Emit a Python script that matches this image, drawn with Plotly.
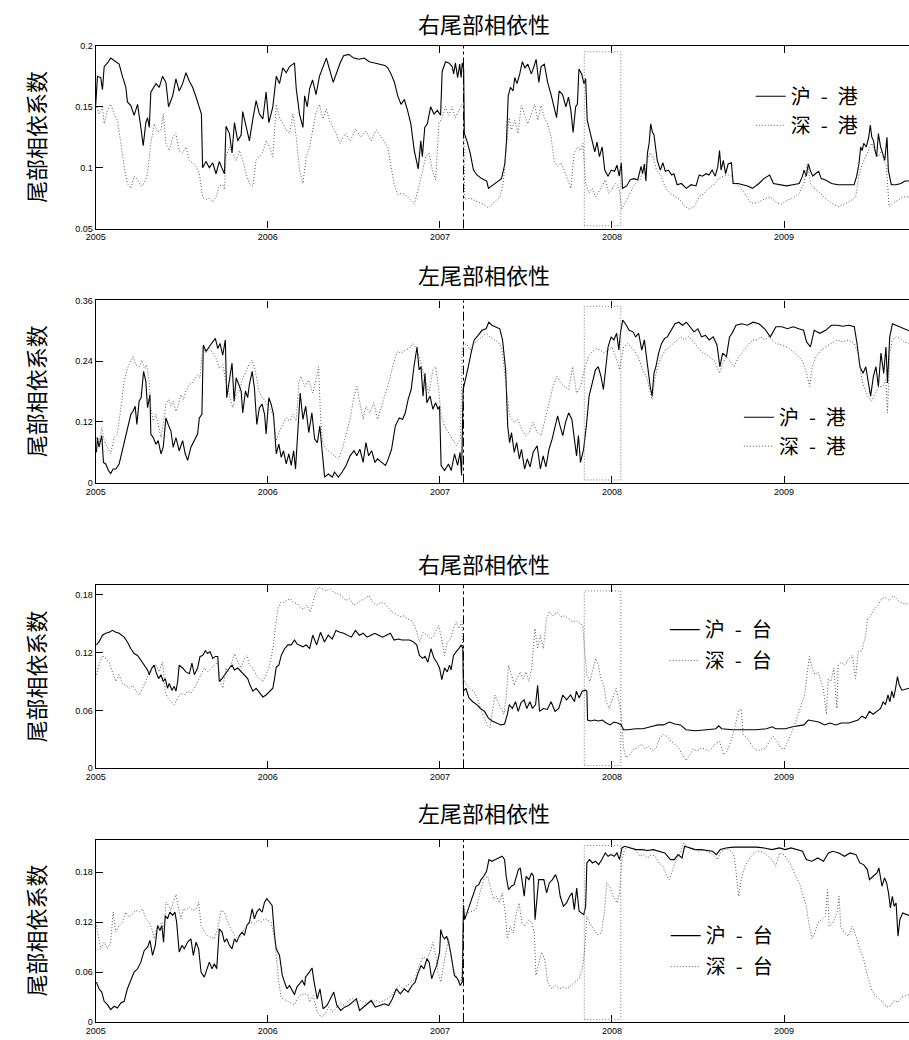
import plotly.graph_objects as go

# ---------------------------------------------------------------- data
YEAR_TICKS = [2005, 2006, 2007, 2008, 2009]
YEAR_LABELS = ["2005", "2006", "2007", "2008", "2009"]
X_RANGE = [2005.0, 2009.726]

CRASH_DATE = 2007.137            # 2007-02-27 market crash
WINDOW = (2007.839, 2008.051)    # highlighted window

PANEL_TITLES = ["右尾部相依性", "左尾部相依性", "右尾部相依性", "左尾部相依性"]
Y_TITLE = "尾部相依系数"
PAIR_NAMES = [("沪\u2002-\u2002港", "深\u2002-\u2002港"), ("沪\u2002-\u2002港", "深\u2002-\u2002港"),
              ("沪\u2002-\u2002台", "深\u2002-\u2002台"), ("沪\u2002-\u2002台", "深\u2002-\u2002台")]

Y_RANGES = [[0.05, 0.2], [0.0, 0.36], [0.0, 0.19], [0.0, 0.219]]
Y_TICKS = [[0.05, 0.1, 0.15, 0.2], [0, 0.12, 0.24, 0.36],
           [0, 0.06, 0.12, 0.18], [0, 0.06, 0.12, 0.18]]
Y_TICK_LABELS = [["0.05", "0.1", "0.15", "0.2"], ["0", "0.12", "0.24", "0.36"],
                 ["0", "0.06", "0.12", "0.18"], ["0", "0.06", "0.12", "0.18"]]

# (year, coefficient) pairs
right_hk_sh = [
    (2005.000, 0.152), (2005.010, 0.175), (2005.029, 0.174), (2005.039, 0.164), (2005.049, 0.183),
    (2005.068, 0.186), (2005.087, 0.190), (2005.117, 0.187), (2005.136, 0.185), (2005.155, 0.175),
    (2005.175, 0.166), (2005.184, 0.154), (2005.204, 0.151), (2005.223, 0.143), (2005.243, 0.152),
    (2005.262, 0.133), (2005.276, 0.118), (2005.291, 0.137), (2005.301, 0.141), (2005.311, 0.133),
    (2005.320, 0.162), (2005.350, 0.169), (2005.369, 0.166), (2005.388, 0.175), (2005.408, 0.170),
    (2005.423, 0.150), (2005.447, 0.159), (2005.466, 0.173), (2005.485, 0.163), (2005.505, 0.169),
    (2005.524, 0.178), (2005.544, 0.171), (2005.563, 0.166), (2005.583, 0.158), (2005.602, 0.150),
    (2005.614, 0.144), (2005.621, 0.100), (2005.641, 0.105), (2005.660, 0.100), (2005.680, 0.104),
    (2005.699, 0.095), (2005.718, 0.105), (2005.738, 0.098), (2005.748, 0.095), (2005.757, 0.134),
    (2005.777, 0.128), (2005.792, 0.112), (2005.806, 0.137), (2005.825, 0.122), (2005.845, 0.127),
    (2005.854, 0.146), (2005.874, 0.133), (2005.893, 0.122), (2005.913, 0.140), (2005.932, 0.155),
    (2005.951, 0.144), (2005.971, 0.140), (2005.990, 0.162), (2006.006, 0.137), (2006.029, 0.150),
    (2006.049, 0.175), (2006.068, 0.169), (2006.087, 0.182), (2006.107, 0.178), (2006.126, 0.183),
    (2006.146, 0.185), (2006.155, 0.186), (2006.165, 0.165), (2006.184, 0.144), (2006.204, 0.133),
    (2006.214, 0.159), (2006.229, 0.150), (2006.243, 0.165), (2006.260, 0.172), (2006.280, 0.160),
    (2006.300, 0.175), (2006.320, 0.183), (2006.340, 0.190), (2006.360, 0.180), (2006.380, 0.170),
    (2006.400, 0.178), (2006.420, 0.186), (2006.440, 0.192), (2006.470, 0.193), (2006.500, 0.190),
    (2006.530, 0.189), (2006.560, 0.190), (2006.590, 0.187), (2006.620, 0.186), (2006.650, 0.185),
    (2006.680, 0.184), (2006.697, 0.182), (2006.716, 0.177), (2006.736, 0.170), (2006.755, 0.159),
    (2006.774, 0.152), (2006.793, 0.156), (2006.812, 0.147), (2006.831, 0.136), (2006.851, 0.114),
    (2006.874, 0.099), (2006.889, 0.122), (2006.898, 0.109), (2006.912, 0.133), (2006.927, 0.136),
    (2006.946, 0.150), (2006.966, 0.144), (2006.985, 0.147), (2007.004, 0.143), (2007.013, 0.179),
    (2007.033, 0.187), (2007.052, 0.186), (2007.071, 0.183), (2007.080, 0.177), (2007.090, 0.186),
    (2007.103, 0.174), (2007.115, 0.185), (2007.123, 0.174), (2007.130, 0.186), (2007.138, 0.181),
    (2007.142, 0.128), (2007.157, 0.122), (2007.176, 0.112), (2007.195, 0.098), (2007.215, 0.094),
    (2007.243, 0.091), (2007.272, 0.089), (2007.282, 0.083), (2007.310, 0.086), (2007.339, 0.089),
    (2007.358, 0.091), (2007.377, 0.103), (2007.387, 0.122), (2007.397, 0.159), (2007.410, 0.166),
    (2007.425, 0.163), (2007.435, 0.174), (2007.448, 0.169), (2007.464, 0.177), (2007.479, 0.187),
    (2007.494, 0.182), (2007.511, 0.185), (2007.531, 0.177), (2007.544, 0.182), (2007.559, 0.189),
    (2007.575, 0.170), (2007.588, 0.183), (2007.607, 0.185), (2007.626, 0.170), (2007.646, 0.160),
    (2007.665, 0.147), (2007.678, 0.141), (2007.693, 0.163), (2007.713, 0.160), (2007.732, 0.150),
    (2007.747, 0.158), (2007.761, 0.147), (2007.774, 0.129), (2007.789, 0.150), (2007.799, 0.152),
    (2007.808, 0.181), (2007.824, 0.177), (2007.837, 0.169), (2007.847, 0.173), (2007.856, 0.139),
    (2007.870, 0.131), (2007.885, 0.120), (2007.900, 0.113), (2007.913, 0.121), (2007.927, 0.109),
    (2007.943, 0.117), (2007.958, 0.098), (2007.977, 0.093), (2007.996, 0.098), (2008.015, 0.097),
    (2008.029, 0.102), (2008.042, 0.093), (2008.054, 0.104), (2008.061, 0.083), (2008.086, 0.085),
    (2008.105, 0.090), (2008.125, 0.091), (2008.150, 0.090), (2008.169, 0.101), (2008.178, 0.095),
    (2008.188, 0.103), (2008.197, 0.089), (2008.206, 0.112), (2008.216, 0.120), (2008.225, 0.136),
    (2008.235, 0.129), (2008.244, 0.127), (2008.253, 0.117), (2008.263, 0.106), (2008.281, 0.098),
    (2008.296, 0.104), (2008.310, 0.097), (2008.328, 0.098), (2008.347, 0.094), (2008.360, 0.095),
    (2008.379, 0.086), (2008.403, 0.087), (2008.432, 0.083), (2008.460, 0.086), (2008.488, 0.085),
    (2008.507, 0.094), (2008.525, 0.093), (2008.548, 0.095), (2008.563, 0.094), (2008.582, 0.098),
    (2008.600, 0.093), (2008.615, 0.101), (2008.625, 0.114), (2008.634, 0.098), (2008.647, 0.106),
    (2008.660, 0.095), (2008.675, 0.103), (2008.694, 0.104), (2008.704, 0.087), (2008.732, 0.087),
    (2008.760, 0.086), (2008.788, 0.085), (2008.816, 0.083), (2008.854, 0.087), (2008.882, 0.091),
    (2008.916, 0.094), (2008.938, 0.087), (2008.976, 0.086), (2009.013, 0.085), (2009.051, 0.086),
    (2009.088, 0.087), (2009.107, 0.093), (2009.116, 0.098), (2009.129, 0.093), (2009.141, 0.103),
    (2009.154, 0.097), (2009.167, 0.093), (2009.182, 0.095), (2009.201, 0.097), (2009.216, 0.091),
    (2009.238, 0.090), (2009.276, 0.087), (2009.313, 0.086), (2009.351, 0.086), (2009.388, 0.086),
    (2009.407, 0.086), (2009.422, 0.093), (2009.435, 0.103), (2009.445, 0.117), (2009.454, 0.114),
    (2009.463, 0.120), (2009.478, 0.117), (2009.492, 0.125), (2009.501, 0.135), (2009.510, 0.125),
    (2009.520, 0.122), (2009.529, 0.114), (2009.538, 0.109), (2009.548, 0.128), (2009.561, 0.117),
    (2009.572, 0.112), (2009.585, 0.106), (2009.598, 0.125), (2009.606, 0.098), (2009.613, 0.093),
    (2009.623, 0.086), (2009.651, 0.086), (2009.679, 0.087), (2009.702, 0.089), (2009.726, 0.089),
]

right_hk_sz = [
    (2005.000, 0.152), (2005.019, 0.144), (2005.039, 0.150), (2005.049, 0.136), (2005.068, 0.147),
    (2005.087, 0.152), (2005.107, 0.144), (2005.126, 0.139), (2005.146, 0.120), (2005.165, 0.101),
    (2005.184, 0.087), (2005.204, 0.083), (2005.223, 0.093), (2005.243, 0.090), (2005.262, 0.085),
    (2005.282, 0.087), (2005.301, 0.095), (2005.320, 0.120), (2005.340, 0.136), (2005.359, 0.129),
    (2005.379, 0.131), (2005.392, 0.144), (2005.408, 0.120), (2005.427, 0.114), (2005.447, 0.125),
    (2005.466, 0.128), (2005.485, 0.114), (2005.505, 0.112), (2005.524, 0.117), (2005.544, 0.106),
    (2005.563, 0.104), (2005.583, 0.101), (2005.602, 0.095), (2005.621, 0.076), (2005.641, 0.074),
    (2005.660, 0.075), (2005.680, 0.072), (2005.699, 0.076), (2005.718, 0.085), (2005.738, 0.086),
    (2005.748, 0.082), (2005.757, 0.109), (2005.777, 0.117), (2005.796, 0.112), (2005.816, 0.106),
    (2005.835, 0.114), (2005.854, 0.106), (2005.874, 0.095), (2005.893, 0.087), (2005.913, 0.085),
    (2005.932, 0.106), (2005.951, 0.109), (2005.971, 0.113), (2005.990, 0.122), (2006.010, 0.117),
    (2006.029, 0.109), (2006.049, 0.152), (2006.068, 0.141), (2006.087, 0.136), (2006.107, 0.131),
    (2006.126, 0.128), (2006.146, 0.144), (2006.165, 0.125), (2006.184, 0.098), (2006.204, 0.087),
    (2006.223, 0.109), (2006.243, 0.117), (2006.260, 0.130), (2006.280, 0.145), (2006.300, 0.152),
    (2006.320, 0.140), (2006.340, 0.148), (2006.360, 0.138), (2006.390, 0.130), (2006.420, 0.120),
    (2006.450, 0.128), (2006.480, 0.122), (2006.510, 0.132), (2006.540, 0.125), (2006.570, 0.130),
    (2006.600, 0.122), (2006.630, 0.131), (2006.660, 0.125), (2006.680, 0.120), (2006.697, 0.117),
    (2006.716, 0.101), (2006.736, 0.085), (2006.755, 0.078), (2006.782, 0.079), (2006.812, 0.076),
    (2006.851, 0.070), (2006.879, 0.085), (2006.899, 0.098), (2006.918, 0.109), (2006.937, 0.112),
    (2006.956, 0.098), (2006.975, 0.090), (2006.994, 0.136), (2007.013, 0.141), (2007.033, 0.150),
    (2007.052, 0.143), (2007.071, 0.150), (2007.090, 0.141), (2007.109, 0.147), (2007.128, 0.152),
    (2007.138, 0.150), (2007.144, 0.074), (2007.176, 0.075), (2007.215, 0.072), (2007.253, 0.070),
    (2007.282, 0.067), (2007.310, 0.071), (2007.349, 0.076), (2007.368, 0.087), (2007.387, 0.114),
    (2007.402, 0.141), (2007.416, 0.131), (2007.435, 0.139), (2007.454, 0.128), (2007.473, 0.151),
    (2007.494, 0.143), (2007.511, 0.136), (2007.531, 0.144), (2007.550, 0.152), (2007.569, 0.139),
    (2007.588, 0.151), (2007.607, 0.141), (2007.626, 0.136), (2007.646, 0.125), (2007.665, 0.105),
    (2007.684, 0.101), (2007.703, 0.104), (2007.722, 0.098), (2007.741, 0.090), (2007.761, 0.083),
    (2007.780, 0.112), (2007.799, 0.117), (2007.818, 0.114), (2007.831, 0.120), (2007.847, 0.087),
    (2007.866, 0.079), (2007.885, 0.083), (2007.904, 0.076), (2007.923, 0.080), (2007.943, 0.085),
    (2007.962, 0.090), (2007.981, 0.079), (2008.000, 0.082), (2008.019, 0.087), (2008.038, 0.085),
    (2008.057, 0.066), (2008.077, 0.072), (2008.105, 0.079), (2008.134, 0.087), (2008.163, 0.090),
    (2008.182, 0.098), (2008.201, 0.104), (2008.220, 0.112), (2008.239, 0.109), (2008.259, 0.098),
    (2008.287, 0.093), (2008.300, 0.087), (2008.319, 0.082), (2008.338, 0.079), (2008.366, 0.076),
    (2008.394, 0.074), (2008.422, 0.068), (2008.450, 0.066), (2008.478, 0.068), (2008.507, 0.076),
    (2008.535, 0.079), (2008.563, 0.083), (2008.591, 0.086), (2008.619, 0.091), (2008.647, 0.093),
    (2008.675, 0.094), (2008.697, 0.093), (2008.713, 0.087), (2008.741, 0.085), (2008.769, 0.079),
    (2008.807, 0.071), (2008.844, 0.071), (2008.882, 0.074), (2008.919, 0.076), (2008.957, 0.071),
    (2008.985, 0.070), (2009.013, 0.073), (2009.051, 0.075), (2009.088, 0.079), (2009.116, 0.087),
    (2009.135, 0.103), (2009.154, 0.087), (2009.182, 0.082), (2009.210, 0.079), (2009.238, 0.075),
    (2009.276, 0.071), (2009.313, 0.068), (2009.351, 0.070), (2009.388, 0.073), (2009.416, 0.076),
    (2009.435, 0.093), (2009.454, 0.103), (2009.473, 0.109), (2009.492, 0.114), (2009.510, 0.120),
    (2009.529, 0.113), (2009.548, 0.109), (2009.567, 0.114), (2009.580, 0.106), (2009.595, 0.101),
    (2009.610, 0.068), (2009.632, 0.071), (2009.660, 0.073), (2009.689, 0.076), (2009.726, 0.076),
]

left_hk_sh = [
    (2005.004, 0.060), (2005.010, 0.089), (2005.019, 0.070), (2005.035, 0.093), (2005.045, 0.040),
    (2005.058, 0.037), (2005.074, 0.024), (2005.087, 0.018), (2005.101, 0.027), (2005.117, 0.027),
    (2005.136, 0.037), (2005.155, 0.063), (2005.175, 0.093), (2005.190, 0.115), (2005.204, 0.135),
    (2005.217, 0.141), (2005.229, 0.151), (2005.239, 0.115), (2005.252, 0.161), (2005.264, 0.168),
    (2005.278, 0.220), (2005.291, 0.200), (2005.301, 0.148), (2005.315, 0.174), (2005.320, 0.096),
    (2005.334, 0.089), (2005.350, 0.076), (2005.363, 0.083), (2005.379, 0.057), (2005.392, 0.070),
    (2005.408, 0.128), (2005.421, 0.115), (2005.437, 0.102), (2005.450, 0.070), (2005.466, 0.089),
    (2005.485, 0.063), (2005.505, 0.083), (2005.520, 0.057), (2005.534, 0.044), (2005.553, 0.070),
    (2005.573, 0.083), (2005.592, 0.096), (2005.602, 0.128), (2005.617, 0.135), (2005.625, 0.272),
    (2005.641, 0.259), (2005.660, 0.269), (2005.680, 0.278), (2005.695, 0.285), (2005.709, 0.265),
    (2005.722, 0.275), (2005.738, 0.252), (2005.753, 0.282), (2005.761, 0.168), (2005.777, 0.200),
    (2005.792, 0.236), (2005.804, 0.161), (2005.816, 0.207), (2005.831, 0.194), (2005.845, 0.181),
    (2005.854, 0.138), (2005.870, 0.181), (2005.883, 0.168), (2005.893, 0.194), (2005.909, 0.220),
    (2005.922, 0.187), (2005.936, 0.115), (2005.951, 0.148), (2005.967, 0.155), (2005.981, 0.135),
    (2005.990, 0.096), (2006.006, 0.168), (2006.019, 0.155), (2006.033, 0.135), (2006.049, 0.057),
    (2006.064, 0.076), (2006.078, 0.050), (2006.091, 0.063), (2006.107, 0.037), (2006.122, 0.057),
    (2006.136, 0.034), (2006.150, 0.063), (2006.161, 0.027), (2006.175, 0.096), (2006.188, 0.177),
    (2006.204, 0.125), (2006.220, 0.151), (2006.238, 0.099), (2006.256, 0.138), (2006.272, 0.086),
    (2006.288, 0.079), (2006.302, 0.112), (2006.318, 0.047), (2006.330, 0.011), (2006.352, 0.017),
    (2006.375, 0.011), (2006.387, 0.021), (2006.410, 0.011), (2006.432, 0.021), (2006.455, 0.034),
    (2006.478, 0.053), (2006.501, 0.063), (2006.517, 0.053), (2006.535, 0.066), (2006.554, 0.040),
    (2006.570, 0.079), (2006.586, 0.053), (2006.604, 0.063), (2006.622, 0.040), (2006.638, 0.047),
    (2006.661, 0.040), (2006.684, 0.034), (2006.700, 0.047), (2006.719, 0.066), (2006.741, 0.112),
    (2006.764, 0.128), (2006.783, 0.125), (2006.799, 0.138), (2006.815, 0.164), (2006.833, 0.184),
    (2006.849, 0.229), (2006.867, 0.268), (2006.879, 0.223), (2006.890, 0.229), (2006.902, 0.171),
    (2006.913, 0.216), (2006.924, 0.158), (2006.943, 0.171), (2006.959, 0.145), (2006.975, 0.158),
    (2006.989, 0.145), (2006.998, 0.151), (2007.007, 0.034), (2007.027, 0.024), (2007.050, 0.037),
    (2007.066, 0.024), (2007.085, 0.057), (2007.103, 0.034), (2007.117, 0.060), (2007.126, 0.014),
    (2007.135, 0.184), (2007.149, 0.203), (2007.165, 0.229), (2007.181, 0.256), (2007.199, 0.282),
    (2007.222, 0.291), (2007.245, 0.301), (2007.268, 0.304), (2007.284, 0.317), (2007.302, 0.311),
    (2007.325, 0.308), (2007.348, 0.304), (2007.364, 0.282), (2007.382, 0.223), (2007.394, 0.112),
    (2007.405, 0.079), (2007.416, 0.099), (2007.432, 0.060), (2007.446, 0.079), (2007.462, 0.047),
    (2007.474, 0.066), (2007.492, 0.027), (2007.508, 0.047), (2007.524, 0.031), (2007.542, 0.060),
    (2007.565, 0.073), (2007.584, 0.027), (2007.600, 0.053), (2007.616, 0.031), (2007.634, 0.066),
    (2007.652, 0.086), (2007.668, 0.112), (2007.684, 0.132), (2007.698, 0.112), (2007.714, 0.093),
    (2007.730, 0.119), (2007.748, 0.138), (2007.767, 0.125), (2007.783, 0.079), (2007.794, 0.053),
    (2007.805, 0.093), (2007.817, 0.040), (2007.835, 0.066), (2007.851, 0.112), (2007.867, 0.171),
    (2007.886, 0.197), (2007.904, 0.223), (2007.920, 0.229), (2007.936, 0.210), (2007.950, 0.184),
    (2007.959, 0.216), (2007.977, 0.268), (2007.995, 0.288), (2008.011, 0.282), (2008.027, 0.295),
    (2008.040, 0.262), (2008.049, 0.295), (2008.062, 0.321), (2008.078, 0.314), (2008.100, 0.301),
    (2008.122, 0.298), (2008.137, 0.288), (2008.155, 0.295), (2008.173, 0.262), (2008.188, 0.282),
    (2008.200, 0.249), (2008.211, 0.216), (2008.222, 0.190), (2008.233, 0.171), (2008.244, 0.216),
    (2008.255, 0.229), (2008.271, 0.256), (2008.288, 0.275), (2008.306, 0.285), (2008.322, 0.288),
    (2008.344, 0.301), (2008.366, 0.314), (2008.388, 0.317), (2008.410, 0.311), (2008.432, 0.317),
    (2008.455, 0.308), (2008.477, 0.298), (2008.499, 0.304), (2008.521, 0.288), (2008.543, 0.291),
    (2008.565, 0.282), (2008.588, 0.288), (2008.610, 0.272), (2008.627, 0.229), (2008.643, 0.256),
    (2008.665, 0.249), (2008.683, 0.288), (2008.698, 0.295), (2008.721, 0.311), (2008.754, 0.314),
    (2008.787, 0.311), (2008.820, 0.317), (2008.854, 0.314), (2008.887, 0.304), (2008.920, 0.288),
    (2008.953, 0.308), (2008.987, 0.308), (2009.020, 0.304), (2009.053, 0.308), (2009.086, 0.304),
    (2009.113, 0.301), (2009.131, 0.278), (2009.153, 0.268), (2009.175, 0.301), (2009.208, 0.295),
    (2009.242, 0.301), (2009.275, 0.311), (2009.308, 0.311), (2009.341, 0.309), (2009.375, 0.311),
    (2009.408, 0.308), (2009.424, 0.275), (2009.441, 0.229), (2009.459, 0.216), (2009.475, 0.229),
    (2009.490, 0.197), (2009.503, 0.171), (2009.519, 0.210), (2009.534, 0.229), (2009.548, 0.190),
    (2009.563, 0.256), (2009.579, 0.216), (2009.592, 0.268), (2009.601, 0.197), (2009.614, 0.288),
    (2009.630, 0.314), (2009.652, 0.311), (2009.674, 0.308), (2009.696, 0.304), (2009.726, 0.300),
]

left_hk_sz = [
    (2005.004, 0.089), (2005.019, 0.076), (2005.035, 0.109), (2005.049, 0.083), (2005.068, 0.070),
    (2005.087, 0.057), (2005.107, 0.089), (2005.126, 0.096), (2005.146, 0.148), (2005.165, 0.200),
    (2005.184, 0.226), (2005.204, 0.239), (2005.217, 0.249), (2005.233, 0.233), (2005.252, 0.229),
    (2005.268, 0.242), (2005.282, 0.226), (2005.295, 0.233), (2005.311, 0.200), (2005.320, 0.148),
    (2005.334, 0.122), (2005.350, 0.135), (2005.365, 0.109), (2005.379, 0.089), (2005.392, 0.115),
    (2005.408, 0.155), (2005.423, 0.164), (2005.437, 0.151), (2005.450, 0.161), (2005.466, 0.141),
    (2005.482, 0.155), (2005.495, 0.174), (2005.509, 0.164), (2005.524, 0.181), (2005.544, 0.194),
    (2005.563, 0.197), (2005.579, 0.207), (2005.592, 0.213), (2005.606, 0.207), (2005.621, 0.265),
    (2005.641, 0.256), (2005.660, 0.265), (2005.680, 0.256), (2005.699, 0.246), (2005.718, 0.226),
    (2005.738, 0.233), (2005.757, 0.200), (2005.777, 0.174), (2005.796, 0.148), (2005.816, 0.174),
    (2005.835, 0.181), (2005.854, 0.207), (2005.874, 0.220), (2005.893, 0.236), (2005.909, 0.242),
    (2005.928, 0.220), (2005.948, 0.181), (2005.967, 0.168), (2005.986, 0.161), (2006.006, 0.148),
    (2006.029, 0.135), (2006.049, 0.083), (2006.068, 0.102), (2006.087, 0.115), (2006.107, 0.128),
    (2006.126, 0.122), (2006.146, 0.135), (2006.165, 0.122), (2006.181, 0.200), (2006.192, 0.210),
    (2006.215, 0.190), (2006.238, 0.203), (2006.261, 0.177), (2006.284, 0.210), (2006.295, 0.229),
    (2006.307, 0.125), (2006.318, 0.079), (2006.341, 0.066), (2006.364, 0.060), (2006.387, 0.053),
    (2006.410, 0.047), (2006.432, 0.066), (2006.455, 0.093), (2006.478, 0.125), (2006.501, 0.171),
    (2006.517, 0.190), (2006.535, 0.158), (2006.554, 0.125), (2006.570, 0.151), (2006.593, 0.138),
    (2006.616, 0.158), (2006.638, 0.125), (2006.661, 0.151), (2006.684, 0.177), (2006.707, 0.203),
    (2006.730, 0.236), (2006.753, 0.259), (2006.776, 0.256), (2006.799, 0.262), (2006.822, 0.265),
    (2006.844, 0.275), (2006.867, 0.262), (2006.890, 0.236), (2006.913, 0.203), (2006.936, 0.177),
    (2006.959, 0.223), (2006.975, 0.229), (2006.993, 0.184), (2007.007, 0.132), (2007.027, 0.112),
    (2007.050, 0.099), (2007.073, 0.086), (2007.096, 0.073), (2007.119, 0.086), (2007.130, 0.268),
    (2007.153, 0.275), (2007.176, 0.262), (2007.199, 0.275), (2007.222, 0.282), (2007.245, 0.288),
    (2007.268, 0.295), (2007.291, 0.288), (2007.314, 0.282), (2007.336, 0.278), (2007.359, 0.268),
    (2007.382, 0.203), (2007.405, 0.132), (2007.430, 0.119), (2007.453, 0.125), (2007.474, 0.106),
    (2007.497, 0.093), (2007.519, 0.099), (2007.542, 0.119), (2007.565, 0.099), (2007.588, 0.093),
    (2007.611, 0.125), (2007.634, 0.158), (2007.657, 0.190), (2007.680, 0.210), (2007.703, 0.197),
    (2007.725, 0.190), (2007.748, 0.184), (2007.771, 0.229), (2007.794, 0.177), (2007.817, 0.190),
    (2007.840, 0.223), (2007.863, 0.249), (2007.886, 0.259), (2007.908, 0.265), (2007.931, 0.262),
    (2007.954, 0.256), (2007.977, 0.262), (2008.000, 0.268), (2008.022, 0.249), (2008.044, 0.223),
    (2008.067, 0.268), (2008.089, 0.275), (2008.111, 0.268), (2008.133, 0.259), (2008.155, 0.246),
    (2008.177, 0.223), (2008.200, 0.210), (2008.222, 0.177), (2008.233, 0.164), (2008.248, 0.203),
    (2008.266, 0.229), (2008.288, 0.249), (2008.310, 0.262), (2008.333, 0.268), (2008.355, 0.275),
    (2008.377, 0.282), (2008.399, 0.288), (2008.421, 0.282), (2008.443, 0.288), (2008.466, 0.282),
    (2008.488, 0.272), (2008.510, 0.262), (2008.532, 0.256), (2008.554, 0.252), (2008.576, 0.246),
    (2008.599, 0.239), (2008.625, 0.216), (2008.643, 0.236), (2008.665, 0.249), (2008.687, 0.239),
    (2008.710, 0.229), (2008.732, 0.246), (2008.754, 0.256), (2008.776, 0.265), (2008.798, 0.275),
    (2008.820, 0.282), (2008.843, 0.282), (2008.865, 0.288), (2008.887, 0.282), (2008.909, 0.288),
    (2008.931, 0.282), (2008.953, 0.275), (2008.987, 0.272), (2009.020, 0.268), (2009.053, 0.259),
    (2009.086, 0.249), (2009.109, 0.239), (2009.131, 0.216), (2009.149, 0.190), (2009.164, 0.229),
    (2009.186, 0.249), (2009.208, 0.259), (2009.242, 0.268), (2009.275, 0.275), (2009.308, 0.282),
    (2009.341, 0.278), (2009.375, 0.282), (2009.408, 0.275), (2009.430, 0.256), (2009.446, 0.216),
    (2009.463, 0.190), (2009.486, 0.171), (2009.508, 0.161), (2009.530, 0.177), (2009.552, 0.190),
    (2009.574, 0.190), (2009.592, 0.203), (2009.601, 0.138), (2009.614, 0.256), (2009.630, 0.282),
    (2009.652, 0.288), (2009.674, 0.285), (2009.696, 0.278), (2009.726, 0.275),
]

right_tw_sh = [
    (2005.004, 0.128), (2005.019, 0.131), (2005.039, 0.138), (2005.058, 0.140), (2005.078, 0.141),
    (2005.097, 0.143), (2005.117, 0.141), (2005.136, 0.140), (2005.165, 0.136), (2005.184, 0.131),
    (2005.204, 0.124), (2005.223, 0.119), (2005.243, 0.117), (2005.262, 0.112), (2005.282, 0.107),
    (2005.301, 0.102), (2005.311, 0.097), (2005.326, 0.104), (2005.340, 0.107), (2005.350, 0.100),
    (2005.365, 0.093), (2005.379, 0.097), (2005.392, 0.090), (2005.404, 0.093), (2005.417, 0.083),
    (2005.427, 0.088), (2005.443, 0.081), (2005.456, 0.085), (2005.466, 0.080), (2005.476, 0.090),
    (2005.485, 0.107), (2005.505, 0.104), (2005.524, 0.100), (2005.544, 0.098), (2005.559, 0.109),
    (2005.573, 0.097), (2005.592, 0.104), (2005.606, 0.116), (2005.621, 0.117), (2005.637, 0.122),
    (2005.650, 0.119), (2005.664, 0.121), (2005.680, 0.114), (2005.695, 0.116), (2005.709, 0.116),
    (2005.718, 0.090), (2005.734, 0.093), (2005.748, 0.097), (2005.761, 0.100), (2005.777, 0.104),
    (2005.792, 0.107), (2005.806, 0.102), (2005.825, 0.104), (2005.845, 0.100), (2005.864, 0.097),
    (2005.883, 0.093), (2005.897, 0.086), (2005.913, 0.080), (2005.932, 0.083), (2005.951, 0.078),
    (2005.971, 0.074), (2005.990, 0.076), (2006.010, 0.080), (2006.029, 0.083), (2006.039, 0.093),
    (2006.049, 0.105), (2006.064, 0.107), (2006.078, 0.117), (2006.097, 0.124), (2006.117, 0.128),
    (2006.136, 0.128), (2006.155, 0.133), (2006.169, 0.129), (2006.184, 0.128), (2006.204, 0.126),
    (2006.223, 0.128), (2006.243, 0.124), (2006.261, 0.138), (2006.284, 0.128), (2006.306, 0.141),
    (2006.329, 0.131), (2006.351, 0.138), (2006.374, 0.134), (2006.396, 0.143), (2006.419, 0.141),
    (2006.441, 0.140), (2006.464, 0.138), (2006.486, 0.136), (2006.509, 0.143), (2006.532, 0.138),
    (2006.554, 0.140), (2006.577, 0.136), (2006.599, 0.138), (2006.622, 0.140), (2006.644, 0.138),
    (2006.667, 0.136), (2006.689, 0.138), (2006.712, 0.140), (2006.734, 0.133), (2006.757, 0.134),
    (2006.779, 0.133), (2006.802, 0.133), (2006.824, 0.133), (2006.847, 0.131), (2006.865, 0.128),
    (2006.881, 0.117), (2006.899, 0.114), (2006.914, 0.116), (2006.930, 0.110), (2006.948, 0.124),
    (2006.966, 0.114), (2006.982, 0.110), (2006.998, 0.104), (2007.011, 0.092), (2007.027, 0.104),
    (2007.043, 0.100), (2007.056, 0.107), (2007.065, 0.102), (2007.079, 0.117), (2007.095, 0.121),
    (2007.110, 0.124), (2007.124, 0.128), (2007.133, 0.124), (2007.137, 0.080), (2007.151, 0.083),
    (2007.169, 0.073), (2007.191, 0.069), (2007.214, 0.066), (2007.236, 0.062), (2007.259, 0.059),
    (2007.282, 0.052), (2007.304, 0.049), (2007.331, 0.047), (2007.354, 0.045), (2007.376, 0.046),
    (2007.392, 0.056), (2007.403, 0.066), (2007.421, 0.062), (2007.439, 0.069), (2007.455, 0.059),
    (2007.471, 0.068), (2007.489, 0.071), (2007.505, 0.062), (2007.523, 0.069), (2007.538, 0.062),
    (2007.556, 0.066), (2007.568, 0.086), (2007.579, 0.059), (2007.601, 0.062), (2007.624, 0.061),
    (2007.646, 0.069), (2007.669, 0.059), (2007.691, 0.062), (2007.714, 0.076), (2007.736, 0.071),
    (2007.759, 0.076), (2007.782, 0.069), (2007.793, 0.080), (2007.809, 0.073), (2007.827, 0.080),
    (2007.845, 0.081), (2007.854, 0.080), (2007.858, 0.050), (2007.876, 0.049), (2007.899, 0.050),
    (2007.921, 0.049), (2007.944, 0.050), (2007.966, 0.047), (2007.989, 0.045), (2008.011, 0.048),
    (2008.033, 0.047), (2008.054, 0.045), (2008.067, 0.040), (2008.093, 0.040), (2008.137, 0.041),
    (2008.180, 0.041), (2008.224, 0.043), (2008.267, 0.045), (2008.300, 0.045), (2008.333, 0.048),
    (2008.365, 0.046), (2008.398, 0.045), (2008.430, 0.040), (2008.485, 0.039), (2008.550, 0.040),
    (2008.604, 0.041), (2008.620, 0.044), (2008.637, 0.041), (2008.702, 0.040), (2008.767, 0.040),
    (2008.833, 0.040), (2008.898, 0.041), (2008.930, 0.043), (2008.952, 0.041), (2009.007, 0.041),
    (2009.050, 0.043), (2009.091, 0.044), (2009.115, 0.045), (2009.141, 0.050), (2009.167, 0.049),
    (2009.202, 0.048), (2009.235, 0.045), (2009.267, 0.047), (2009.300, 0.045), (2009.333, 0.047),
    (2009.376, 0.047), (2009.409, 0.049), (2009.430, 0.050), (2009.452, 0.054), (2009.474, 0.052),
    (2009.496, 0.059), (2009.517, 0.056), (2009.539, 0.059), (2009.561, 0.062), (2009.576, 0.069),
    (2009.589, 0.066), (2009.604, 0.076), (2009.615, 0.069), (2009.626, 0.080), (2009.637, 0.073),
    (2009.648, 0.083), (2009.659, 0.095), (2009.670, 0.086), (2009.685, 0.081), (2009.726, 0.083),
]

right_tw_sz = [
    (2005.004, 0.097), (2005.019, 0.107), (2005.039, 0.117), (2005.058, 0.114), (2005.078, 0.110),
    (2005.097, 0.100), (2005.117, 0.090), (2005.136, 0.097), (2005.155, 0.088), (2005.175, 0.086),
    (2005.194, 0.083), (2005.214, 0.086), (2005.233, 0.081), (2005.252, 0.076), (2005.272, 0.083),
    (2005.291, 0.090), (2005.311, 0.100), (2005.330, 0.104), (2005.350, 0.107), (2005.369, 0.100),
    (2005.388, 0.110), (2005.404, 0.080), (2005.417, 0.073), (2005.437, 0.069), (2005.456, 0.066),
    (2005.476, 0.073), (2005.495, 0.078), (2005.515, 0.076), (2005.534, 0.080), (2005.553, 0.078),
    (2005.573, 0.083), (2005.592, 0.090), (2005.612, 0.097), (2005.631, 0.104), (2005.650, 0.100),
    (2005.670, 0.104), (2005.689, 0.107), (2005.709, 0.110), (2005.723, 0.090), (2005.738, 0.083),
    (2005.757, 0.104), (2005.767, 0.100), (2005.786, 0.107), (2005.806, 0.119), (2005.825, 0.110),
    (2005.845, 0.104), (2005.864, 0.114), (2005.878, 0.117), (2005.893, 0.107), (2005.913, 0.104),
    (2005.932, 0.097), (2005.951, 0.093), (2005.971, 0.090), (2005.990, 0.097), (2006.006, 0.104),
    (2006.019, 0.114), (2006.033, 0.128), (2006.045, 0.148), (2006.058, 0.165), (2006.072, 0.172),
    (2006.091, 0.172), (2006.111, 0.174), (2006.130, 0.176), (2006.150, 0.172), (2006.169, 0.171),
    (2006.188, 0.167), (2006.208, 0.165), (2006.227, 0.169), (2006.247, 0.162), (2006.262, 0.172),
    (2006.281, 0.184), (2006.295, 0.188), (2006.318, 0.186), (2006.340, 0.184), (2006.363, 0.186),
    (2006.385, 0.182), (2006.408, 0.181), (2006.430, 0.179), (2006.453, 0.174), (2006.475, 0.176),
    (2006.498, 0.169), (2006.520, 0.171), (2006.543, 0.174), (2006.565, 0.176), (2006.588, 0.179),
    (2006.610, 0.172), (2006.633, 0.169), (2006.655, 0.172), (2006.678, 0.171), (2006.700, 0.167),
    (2006.723, 0.162), (2006.745, 0.160), (2006.768, 0.157), (2006.791, 0.158), (2006.813, 0.155),
    (2006.836, 0.153), (2006.858, 0.146), (2006.881, 0.131), (2006.903, 0.141), (2006.926, 0.138),
    (2006.944, 0.134), (2006.959, 0.136), (2006.975, 0.141), (2006.993, 0.148), (2007.011, 0.134),
    (2007.027, 0.117), (2007.043, 0.131), (2007.061, 0.134), (2007.079, 0.145), (2007.095, 0.152),
    (2007.110, 0.145), (2007.128, 0.152), (2007.137, 0.093), (2007.155, 0.086), (2007.173, 0.083),
    (2007.196, 0.080), (2007.218, 0.073), (2007.241, 0.059), (2007.259, 0.052), (2007.275, 0.045),
    (2007.291, 0.042), (2007.304, 0.056), (2007.320, 0.076), (2007.336, 0.069), (2007.354, 0.062),
    (2007.372, 0.056), (2007.387, 0.076), (2007.399, 0.107), (2007.417, 0.097), (2007.432, 0.086),
    (2007.448, 0.093), (2007.466, 0.100), (2007.484, 0.093), (2007.500, 0.100), (2007.516, 0.090),
    (2007.534, 0.104), (2007.552, 0.145), (2007.568, 0.124), (2007.583, 0.138), (2007.601, 0.124),
    (2007.619, 0.155), (2007.635, 0.162), (2007.658, 0.158), (2007.680, 0.162), (2007.703, 0.157),
    (2007.725, 0.158), (2007.748, 0.155), (2007.770, 0.152), (2007.793, 0.153), (2007.815, 0.150),
    (2007.831, 0.148), (2007.840, 0.124), (2007.854, 0.097), (2007.872, 0.090), (2007.890, 0.104),
    (2007.905, 0.114), (2007.921, 0.107), (2007.935, 0.093), (2007.953, 0.086), (2007.966, 0.069),
    (2007.984, 0.062), (2008.007, 0.073), (2008.024, 0.083), (2008.041, 0.069), (2008.054, 0.056),
    (2008.067, 0.021), (2008.083, 0.011), (2008.104, 0.014), (2008.126, 0.020), (2008.148, 0.021),
    (2008.170, 0.025), (2008.191, 0.020), (2008.213, 0.023), (2008.235, 0.018), (2008.257, 0.021),
    (2008.278, 0.032), (2008.300, 0.035), (2008.322, 0.033), (2008.343, 0.028), (2008.365, 0.025),
    (2008.387, 0.021), (2008.409, 0.014), (2008.430, 0.008), (2008.452, 0.014), (2008.474, 0.020),
    (2008.496, 0.018), (2008.517, 0.021), (2008.539, 0.020), (2008.561, 0.018), (2008.583, 0.021),
    (2008.604, 0.026), (2008.626, 0.028), (2008.648, 0.014), (2008.670, 0.018), (2008.691, 0.028),
    (2008.713, 0.042), (2008.735, 0.059), (2008.750, 0.062), (2008.763, 0.035), (2008.785, 0.032),
    (2008.807, 0.025), (2008.828, 0.020), (2008.850, 0.018), (2008.872, 0.020), (2008.893, 0.021),
    (2008.915, 0.028), (2008.937, 0.033), (2008.959, 0.028), (2008.980, 0.021), (2009.002, 0.020),
    (2009.024, 0.028), (2009.039, 0.035), (2009.061, 0.045), (2009.083, 0.056), (2009.104, 0.066),
    (2009.120, 0.076), (2009.133, 0.097), (2009.148, 0.116), (2009.163, 0.104), (2009.180, 0.097),
    (2009.198, 0.100), (2009.213, 0.090), (2009.228, 0.083), (2009.246, 0.056), (2009.257, 0.093),
    (2009.272, 0.090), (2009.289, 0.104), (2009.307, 0.062), (2009.315, 0.107), (2009.333, 0.110),
    (2009.354, 0.107), (2009.376, 0.114), (2009.398, 0.117), (2009.415, 0.093), (2009.430, 0.121),
    (2009.452, 0.122), (2009.474, 0.138), (2009.485, 0.155), (2009.502, 0.158), (2009.524, 0.165),
    (2009.546, 0.169), (2009.567, 0.176), (2009.589, 0.177), (2009.611, 0.174), (2009.633, 0.179),
    (2009.654, 0.176), (2009.676, 0.172), (2009.691, 0.171), (2009.726, 0.170),
]

left_tw_sh = [
    (2005.004, 0.048), (2005.019, 0.040), (2005.035, 0.036), (2005.049, 0.025), (2005.068, 0.021),
    (2005.087, 0.015), (2005.107, 0.019), (2005.126, 0.017), (2005.146, 0.023), (2005.165, 0.025),
    (2005.184, 0.040), (2005.204, 0.050), (2005.223, 0.060), (2005.243, 0.064), (2005.262, 0.072),
    (2005.282, 0.086), (2005.301, 0.090), (2005.315, 0.098), (2005.330, 0.080), (2005.346, 0.092),
    (2005.359, 0.116), (2005.373, 0.110), (2005.384, 0.116), (2005.394, 0.096), (2005.404, 0.128),
    (2005.417, 0.124), (2005.431, 0.132), (2005.447, 0.128), (2005.460, 0.132), (2005.470, 0.120),
    (2005.485, 0.084), (2005.501, 0.092), (2005.515, 0.088), (2005.534, 0.096), (2005.553, 0.100),
    (2005.567, 0.080), (2005.583, 0.096), (2005.598, 0.088), (2005.612, 0.060), (2005.631, 0.054),
    (2005.645, 0.064), (2005.660, 0.072), (2005.676, 0.064), (2005.689, 0.070), (2005.703, 0.064),
    (2005.718, 0.112), (2005.734, 0.108), (2005.748, 0.096), (2005.761, 0.100), (2005.777, 0.092),
    (2005.792, 0.088), (2005.806, 0.100), (2005.819, 0.096), (2005.835, 0.104), (2005.851, 0.108),
    (2005.864, 0.104), (2005.878, 0.116), (2005.893, 0.120), (2005.909, 0.136), (2005.922, 0.124),
    (2005.936, 0.132), (2005.951, 0.136), (2005.967, 0.132), (2005.981, 0.144), (2005.994, 0.148),
    (2006.010, 0.144), (2006.025, 0.140), (2006.039, 0.104), (2006.049, 0.088), (2006.068, 0.080),
    (2006.084, 0.056), (2006.097, 0.048), (2006.111, 0.040), (2006.126, 0.044), (2006.142, 0.038),
    (2006.155, 0.033), (2006.169, 0.042), (2006.184, 0.046), (2006.200, 0.050), (2006.214, 0.044),
    (2006.219, 0.054), (2006.241, 0.060), (2006.257, 0.065), (2006.269, 0.048), (2006.287, 0.028),
    (2006.303, 0.040), (2006.321, 0.016), (2006.344, 0.020), (2006.367, 0.030), (2006.383, 0.036),
    (2006.401, 0.020), (2006.424, 0.014), (2006.446, 0.018), (2006.469, 0.020), (2006.492, 0.024),
    (2006.515, 0.028), (2006.533, 0.014), (2006.556, 0.018), (2006.579, 0.022), (2006.601, 0.026),
    (2006.624, 0.018), (2006.651, 0.020), (2006.679, 0.022), (2006.702, 0.020), (2006.724, 0.028),
    (2006.747, 0.040), (2006.770, 0.034), (2006.793, 0.040), (2006.815, 0.036), (2006.838, 0.044),
    (2006.856, 0.048), (2006.875, 0.060), (2006.891, 0.068), (2006.907, 0.064), (2006.925, 0.076),
    (2006.938, 0.072), (2006.952, 0.052), (2006.966, 0.060), (2006.982, 0.068), (2006.998, 0.084),
    (2007.005, 0.111), (2007.016, 0.103), (2007.027, 0.100), (2007.039, 0.103), (2007.050, 0.096),
    (2007.062, 0.084), (2007.073, 0.068), (2007.084, 0.056), (2007.103, 0.052), (2007.118, 0.044),
    (2007.130, 0.048), (2007.137, 0.139), (2007.144, 0.123), (2007.157, 0.131), (2007.175, 0.143),
    (2007.194, 0.155), (2007.210, 0.163), (2007.226, 0.165), (2007.239, 0.171), (2007.255, 0.175),
    (2007.271, 0.181), (2007.285, 0.195), (2007.301, 0.193), (2007.323, 0.195), (2007.346, 0.197),
    (2007.362, 0.199), (2007.376, 0.195), (2007.385, 0.175), (2007.399, 0.159), (2007.415, 0.163),
    (2007.431, 0.165), (2007.444, 0.175), (2007.456, 0.183), (2007.467, 0.185), (2007.478, 0.167),
    (2007.490, 0.151), (2007.501, 0.175), (2007.517, 0.171), (2007.533, 0.179), (2007.544, 0.175),
    (2007.553, 0.123), (2007.563, 0.143), (2007.574, 0.171), (2007.590, 0.171), (2007.604, 0.171),
    (2007.620, 0.155), (2007.636, 0.167), (2007.654, 0.171), (2007.672, 0.177), (2007.688, 0.167),
    (2007.699, 0.151), (2007.718, 0.139), (2007.736, 0.143), (2007.754, 0.151), (2007.768, 0.155),
    (2007.781, 0.135), (2007.795, 0.161), (2007.809, 0.133), (2007.822, 0.131), (2007.836, 0.129),
    (2007.847, 0.139), (2007.854, 0.191), (2007.870, 0.195), (2007.886, 0.191), (2007.904, 0.193),
    (2007.923, 0.189), (2007.941, 0.195), (2007.961, 0.203), (2007.977, 0.199), (2007.995, 0.201),
    (2008.013, 0.199), (2008.029, 0.203), (2008.044, 0.195), (2008.058, 0.209), (2008.073, 0.211),
    (2008.107, 0.209), (2008.140, 0.207), (2008.173, 0.207), (2008.207, 0.206), (2008.240, 0.207),
    (2008.273, 0.205), (2008.307, 0.203), (2008.340, 0.195), (2008.362, 0.195), (2008.384, 0.201),
    (2008.407, 0.197), (2008.422, 0.211), (2008.451, 0.209), (2008.484, 0.207), (2008.518, 0.207),
    (2008.551, 0.206), (2008.584, 0.205), (2008.607, 0.201), (2008.629, 0.207), (2008.662, 0.209),
    (2008.707, 0.210), (2008.751, 0.210), (2008.796, 0.210), (2008.840, 0.210), (2008.884, 0.209),
    (2008.929, 0.207), (2008.973, 0.209), (2009.007, 0.207), (2009.040, 0.209), (2009.073, 0.207),
    (2009.107, 0.205), (2009.129, 0.195), (2009.162, 0.193), (2009.196, 0.197), (2009.229, 0.193),
    (2009.258, 0.203), (2009.284, 0.205), (2009.318, 0.203), (2009.351, 0.199), (2009.384, 0.203),
    (2009.418, 0.201), (2009.440, 0.191), (2009.462, 0.189), (2009.484, 0.183), (2009.496, 0.171),
    (2009.518, 0.175), (2009.540, 0.179), (2009.551, 0.185), (2009.569, 0.163), (2009.584, 0.173),
    (2009.596, 0.167), (2009.607, 0.155), (2009.618, 0.137), (2009.629, 0.151), (2009.640, 0.139),
    (2009.651, 0.143), (2009.662, 0.103), (2009.673, 0.123), (2009.689, 0.131), (2009.726, 0.128),
]

left_tw_sz = [
    (2005.004, 0.116), (2005.015, 0.104), (2005.029, 0.088), (2005.049, 0.096), (2005.068, 0.088),
    (2005.087, 0.096), (2005.101, 0.132), (2005.117, 0.108), (2005.136, 0.116), (2005.155, 0.120),
    (2005.175, 0.132), (2005.194, 0.126), (2005.214, 0.130), (2005.233, 0.134), (2005.252, 0.132),
    (2005.272, 0.136), (2005.291, 0.124), (2005.311, 0.120), (2005.326, 0.112), (2005.340, 0.100),
    (2005.353, 0.112), (2005.369, 0.116), (2005.384, 0.120), (2005.398, 0.112), (2005.408, 0.144),
    (2005.423, 0.140), (2005.437, 0.134), (2005.450, 0.144), (2005.466, 0.153), (2005.482, 0.136),
    (2005.495, 0.124), (2005.509, 0.136), (2005.524, 0.134), (2005.544, 0.138), (2005.563, 0.134),
    (2005.583, 0.136), (2005.598, 0.144), (2005.612, 0.116), (2005.631, 0.108), (2005.650, 0.104),
    (2005.670, 0.102), (2005.689, 0.100), (2005.709, 0.112), (2005.728, 0.134), (2005.748, 0.132),
    (2005.767, 0.120), (2005.786, 0.112), (2005.806, 0.104), (2005.825, 0.100), (2005.845, 0.104),
    (2005.864, 0.112), (2005.883, 0.116), (2005.903, 0.120), (2005.922, 0.118), (2005.942, 0.122),
    (2005.961, 0.120), (2005.981, 0.124), (2006.000, 0.122), (2006.019, 0.120), (2006.039, 0.100),
    (2006.052, 0.072), (2006.064, 0.048), (2006.078, 0.029), (2006.097, 0.027), (2006.117, 0.025),
    (2006.136, 0.023), (2006.155, 0.021), (2006.175, 0.029), (2006.194, 0.033), (2006.214, 0.034),
    (2006.233, 0.033), (2006.241, 0.024), (2006.264, 0.032), (2006.287, 0.012), (2006.310, 0.006),
    (2006.333, 0.010), (2006.355, 0.018), (2006.378, 0.012), (2006.401, 0.018), (2006.424, 0.022),
    (2006.446, 0.020), (2006.469, 0.026), (2006.492, 0.028), (2006.515, 0.024), (2006.538, 0.026),
    (2006.560, 0.024), (2006.583, 0.022), (2006.606, 0.024), (2006.629, 0.026), (2006.651, 0.024),
    (2006.674, 0.026), (2006.697, 0.028), (2006.720, 0.032), (2006.743, 0.040), (2006.765, 0.044),
    (2006.788, 0.040), (2006.811, 0.044), (2006.834, 0.048), (2006.856, 0.052), (2006.879, 0.068),
    (2006.902, 0.078), (2006.925, 0.076), (2006.943, 0.084), (2006.959, 0.096), (2006.975, 0.080),
    (2006.989, 0.060), (2007.005, 0.048), (2007.021, 0.068), (2007.034, 0.084), (2007.050, 0.100),
    (2007.066, 0.076), (2007.084, 0.060), (2007.103, 0.052), (2007.118, 0.048), (2007.130, 0.056),
    (2007.137, 0.143), (2007.148, 0.127), (2007.164, 0.131), (2007.187, 0.133), (2007.210, 0.135),
    (2007.232, 0.155), (2007.255, 0.171), (2007.278, 0.175), (2007.294, 0.163), (2007.312, 0.147),
    (2007.330, 0.151), (2007.346, 0.143), (2007.362, 0.155), (2007.380, 0.131), (2007.392, 0.100),
    (2007.408, 0.115), (2007.426, 0.107), (2007.444, 0.131), (2007.460, 0.143), (2007.476, 0.119),
    (2007.494, 0.115), (2007.517, 0.123), (2007.535, 0.119), (2007.549, 0.107), (2007.558, 0.056),
    (2007.574, 0.072), (2007.590, 0.084), (2007.608, 0.076), (2007.626, 0.048), (2007.649, 0.040),
    (2007.672, 0.044), (2007.695, 0.040), (2007.718, 0.042), (2007.740, 0.040), (2007.763, 0.044),
    (2007.786, 0.048), (2007.809, 0.052), (2007.827, 0.064), (2007.840, 0.084), (2007.854, 0.127),
    (2007.870, 0.119), (2007.893, 0.111), (2007.916, 0.105), (2007.939, 0.107), (2007.957, 0.135),
    (2007.970, 0.167), (2007.986, 0.163), (2008.007, 0.151), (2008.029, 0.143), (2008.044, 0.155),
    (2008.058, 0.195), (2008.073, 0.207), (2008.096, 0.211), (2008.118, 0.209), (2008.140, 0.205),
    (2008.162, 0.199), (2008.184, 0.201), (2008.207, 0.197), (2008.229, 0.201), (2008.251, 0.199),
    (2008.273, 0.191), (2008.296, 0.187), (2008.318, 0.175), (2008.333, 0.171), (2008.351, 0.183),
    (2008.373, 0.195), (2008.396, 0.203), (2008.418, 0.215), (2008.440, 0.209), (2008.462, 0.207),
    (2008.484, 0.207), (2008.507, 0.205), (2008.529, 0.207), (2008.551, 0.205), (2008.573, 0.203),
    (2008.596, 0.199), (2008.613, 0.195), (2008.629, 0.203), (2008.651, 0.207), (2008.673, 0.207),
    (2008.696, 0.205), (2008.711, 0.199), (2008.724, 0.175), (2008.736, 0.151), (2008.751, 0.171),
    (2008.773, 0.187), (2008.796, 0.195), (2008.818, 0.201), (2008.840, 0.205), (2008.862, 0.205),
    (2008.884, 0.203), (2008.907, 0.199), (2008.929, 0.195), (2008.951, 0.187), (2008.973, 0.203),
    (2009.000, 0.201), (2009.022, 0.195), (2009.044, 0.187), (2009.067, 0.175), (2009.089, 0.167),
    (2009.107, 0.155), (2009.129, 0.139), (2009.147, 0.115), (2009.162, 0.100), (2009.178, 0.107),
    (2009.196, 0.119), (2009.218, 0.123), (2009.240, 0.127), (2009.253, 0.159), (2009.262, 0.115),
    (2009.284, 0.119), (2009.307, 0.131), (2009.320, 0.151), (2009.329, 0.115), (2009.351, 0.107),
    (2009.373, 0.103), (2009.396, 0.115), (2009.418, 0.103), (2009.440, 0.088), (2009.462, 0.076),
    (2009.484, 0.056), (2009.507, 0.040), (2009.529, 0.032), (2009.551, 0.028), (2009.573, 0.024),
    (2009.596, 0.018), (2009.618, 0.020), (2009.640, 0.026), (2009.662, 0.024), (2009.684, 0.030),
    (2009.726, 0.033),
]

PANEL_SERIES = [
    (right_hk_sh, right_hk_sz),
    (left_hk_sh, left_hk_sz),
    (right_tw_sh, right_tw_sz),
    (left_tw_sh, left_tw_sz),
]

# ---------------------------------------------------------------- layout geometry
W, H = 909, 1040
PLOT_LEFT_PX = 86.7
PANEL_PX = [(41.3, 225.7), (298.3, 482.3), (585.7, 770.7), (842.7, 1027.0)]  # top, bottom
TITLE_Y_PX = [18.5, 272.0, 563.0, 815.0]
TITLE_X_PX = 479.0
YLABEL_X_PX = 25.0
LEGEND_POS_PX = [(749, 72.5), (737, 396.5), (662, 611.0), (663, 920.0)]  # left, top
LEGEND_GAP = [0, 0, 2, 2]

CJK = "Noto Sans CJK SC"
TICK_FONT = dict(family="Liberation Sans, Arial, sans-serif", size=9, color="black")
SOLID = dict(color="black", width=1.1)
DOTTED = dict(color="#555555", width=1, dash="1px,2px")

fig = go.Figure()
layout = dict(
    width=W, height=H,
    margin=dict(l=0, r=0, t=0, b=0),
    paper_bgcolor="white", plot_bgcolor="white",
    showlegend=True,
    shapes=[], annotations=[],
)


def py(px):
    return 1 - px / H


for i in range(4):
    n = "" if i == 0 else str(i + 1)
    xa, ya = "x" + n, "y" + n
    leg = "legend" + n
    top, bot = PANEL_PX[i]
    sh, sz = PANEL_SERIES[i]
    name_sh, name_sz = PAIR_NAMES[i]

    sh_t, sh_v = zip(*sh)
    sz_t, sz_v = zip(*sz)
    fig.add_trace(go.Scatter(x=list(sh_t), y=list(sh_v), mode="lines", name=name_sh,
                             line=SOLID, xaxis=xa, yaxis=ya, legend=leg,
                             legendgroup=f"g{i}a", hoverinfo="skip"))
    fig.add_trace(go.Scatter(x=list(sz_t), y=list(sz_v), mode="lines", name=name_sz,
                             line=DOTTED, xaxis=xa, yaxis=ya, legend=leg,
                             legendgroup=f"g{i}b", hoverinfo="skip"))

    layout["xaxis" + n] = dict(
        domain=[PLOT_LEFT_PX / W, 1.0], range=X_RANGE, anchor=ya,
        tickmode="array", tickvals=YEAR_TICKS, ticktext=YEAR_LABELS,
        ticks="inside", ticklen=7, tickwidth=1, tickcolor="black",
        showline=True, linecolor="black", linewidth=1.3, mirror="ticks",
        showgrid=False, zeroline=False, tickfont=TICK_FONT,
    )
    layout["yaxis" + n] = dict(
        domain=[py(bot), py(top)], range=Y_RANGES[i], anchor=xa,
        tickmode="array", tickvals=Y_TICKS[i], ticktext=Y_TICK_LABELS[i],
        ticks="inside", ticklen=7, tickwidth=1, tickcolor="black",
        showline=True, linecolor="black", linewidth=1.3, mirror=False,
        showgrid=False, zeroline=False, tickfont=TICK_FONT,
    )
    lx, ly = LEGEND_POS_PX[i]
    layout[leg] = dict(
        x=lx / W, y=py(ly), xanchor="left", yanchor="top",
        bgcolor="rgba(0,0,0,0)", borderwidth=0,
        font=dict(family=CJK, size=20, color="black"),
        traceorder="grouped", tracegroupgap=LEGEND_GAP[i], itemwidth=30,
    )

    # crash date marker and highlighted window
    layout["shapes"].append(dict(
        type="line", xref=xa, yref=ya + " domain", x0=CRASH_DATE, x1=CRASH_DATE,
        y0=0, y1=1, line=dict(color="black", width=1, dash="dashdot"),
    ))
    layout["shapes"].append(dict(
        type="rect", xref=xa, yref=ya + " domain", x0=WINDOW[0], x1=WINDOW[1],
        y0=0.015, y1=0.968, line=dict(color="#777777", width=1, dash="1px,2px"),
        fillcolor="rgba(0,0,0,0)",
    ))

    layout["annotations"].append(dict(
        text=PANEL_TITLES[i], xref="paper", yref="paper",
        x=TITLE_X_PX / W, y=py(TITLE_Y_PX[i]), xanchor="center", yanchor="middle",
        showarrow=False, font=dict(family=CJK, size=22, color="black"),
    ))
    layout["annotations"].append(dict(
        text=Y_TITLE, xref="paper", yref="paper", textangle=-90,
        x=YLABEL_X_PX / W, y=py((top + bot) / 2), xanchor="center", yanchor="middle",
        showarrow=False, font=dict(family=CJK, size=22, color="black"),
    ))

fig.update_layout(**layout)
fig.write_html("out.html")
